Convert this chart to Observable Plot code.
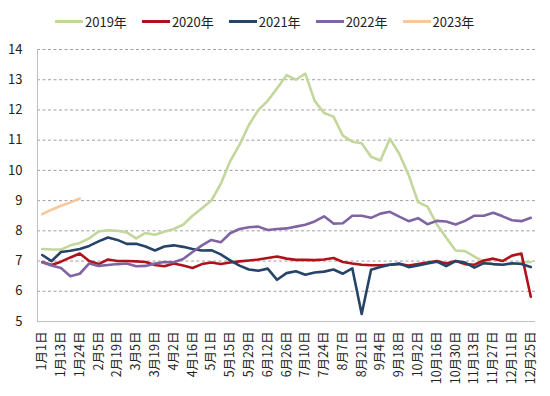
<!DOCTYPE html>
<html><head><meta charset="utf-8">
<script src="https://cdn.jsdelivr.net/npm/d3@7"></script>
<script src="https://cdn.jsdelivr.net/npm/@observablehq/plot@0.6"></script>
<style>
body{margin:0;background:#fff;font-family:"Noto Sans CJK SC","Noto Sans",sans-serif;}
#legend{height:36px;display:flex;align-items:center;padding-top:6px;padding-left:55px;box-sizing:border-box;font-size:13px;color:#222;}
.item{display:flex;align-items:center;margin-right:15px;}
.sw{display:inline-block;width:28px;height:3px;margin-right:2px;}
</style></head><body>
<div id="legend"></div>
<div id="chart"></div>
<script>
const dates = ["1月1日","1月13日","1月24日","2月5日","2月19日","3月5日","3月19日","4月2日","4月16日","5月1日","5月15日","5月29日","6月12日","6月26日","7月10日","7月24日","8月7日","8月21日","9月4日","9月18日","10月2日","10月16日","10月30日","11月13日","11月27日","12月11日","12月25日"];
const years = ["2019年","2020年","2021年","2022年","2023年"];
const colors = ["#c3d69b","#b0121b","#254467","#8064a2","#f7c89b"];
const v2019 = [7.4,7.38,7.38,7.52,7.6,7.75,7.98,8.02,8.0,7.95,7.75,7.93,7.87,7.97,8.06,8.2,8.5,8.75,9.0,9.55,10.3,10.85,11.5,12.0,12.3,12.72,13.15,13.0,13.2,12.3,11.9,11.78,11.15,10.95,10.9,10.45,10.33,11.05,10.55,9.85,8.95,8.8,8.22,7.77,7.35,7.33,7.15,6.98,6.9,6.88,6.9,6.95,6.97];
const v2020 = [6.97,6.87,6.98,7.12,7.25,7.0,6.9,7.05,7.0,7.0,6.99,6.97,6.87,6.83,6.92,6.85,6.77,6.9,6.95,6.9,6.95,6.99,7.02,7.05,7.1,7.15,7.08,7.04,7.04,7.03,7.05,7.1,6.97,6.92,6.88,6.86,6.86,6.88,6.9,6.85,6.9,6.95,7.0,6.92,7.0,6.9,6.88,7.02,7.08,7.0,7.18,7.25,5.82];
const v2021 = [7.2,7.0,7.3,7.34,7.4,7.5,7.65,7.78,7.7,7.57,7.57,7.48,7.35,7.48,7.52,7.47,7.4,7.35,7.36,7.22,7.02,6.85,6.72,6.68,6.75,6.38,6.6,6.66,6.55,6.62,6.65,6.72,6.58,6.76,5.25,6.71,6.8,6.88,6.92,6.8,6.85,6.92,6.98,6.83,7.0,6.95,6.78,6.93,6.9,6.88,6.93,6.9,6.8];
const v2022 = [6.96,6.85,6.77,6.5,6.58,6.92,6.84,6.87,6.9,6.92,6.83,6.84,6.92,6.97,6.96,7.07,7.3,7.52,7.7,7.62,7.92,8.06,8.12,8.14,8.03,8.06,8.08,8.14,8.2,8.31,8.48,8.24,8.25,8.5,8.5,8.43,8.57,8.63,8.47,8.32,8.42,8.22,8.33,8.31,8.21,8.33,8.5,8.5,8.6,8.48,8.35,8.32,8.43];
const v2023 = [8.55,8.7,8.83,8.94,9.07];
const allValues = [v2019,v2020,v2021,v2022,v2023];

const legend = document.getElementById("legend");
years.forEach((y,k)=>{
  const it = document.createElement("div"); it.className="item";
  const sw = document.createElement("span"); sw.className="sw"; sw.style.background=colors[k];
  const tx = document.createElement("span"); tx.textContent=y;
  it.appendChild(sw); it.appendChild(tx); legend.appendChild(it);
});

const font = '"Noto Sans CJK SC","Noto Sans",sans-serif';
const chart = Plot.plot({
  width:550, height:360,
  marginTop:13, marginBottom:75, marginLeft:37, marginRight:15,
  x:{domain:[-0.5,52.5]},
  y:{domain:[5,14]},
  style:{fontFamily:font, fontSize:"13px", color:"#222", background:"#fff"},
  marks:[
    Plot.ruleY(d3.range(6,15), {stroke:"#a0a0a0", strokeDasharray:"3,2.5", strokeWidth:1}),
    Plot.ruleY([5], {stroke:"#bfbfbf", strokeWidth:1}),
    Plot.ruleX([-0.5], {stroke:"#bfbfbf", strokeWidth:1}),
    Plot.axisY({ticks:d3.range(5,15), tickSize:0, tickPadding:15, tickFormat:d=>String(d), label:null, fontSize:13}),
    Plot.axisX({ticks:dates.map((_,k)=>2*k), tickFormat:i=>dates[i/2], tickRotate:-90, tickSize:0, tickPadding:10, fontSize:12.5, label:null}),
    ...allValues.map((vals,k)=>Plot.lineY(vals, {x:(d,i)=>i, y:d=>d, stroke:colors[k], strokeWidth:2.6}))
  ]
});
document.getElementById("chart").appendChild(chart);
</script>
</body></html>
